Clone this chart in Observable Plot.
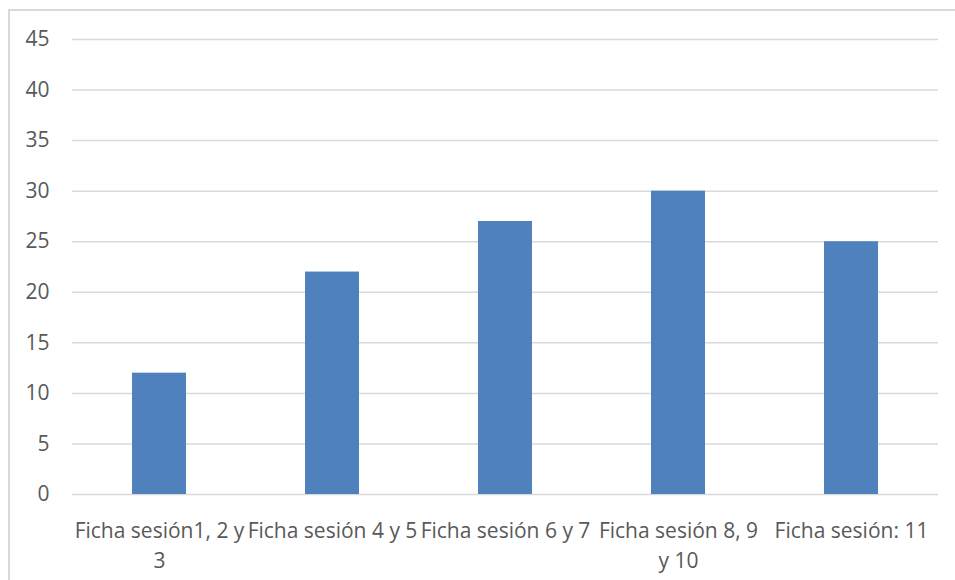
<!DOCTYPE html>
<html>
<head>
<meta charset="utf-8">
<script src="https://cdn.jsdelivr.net/npm/d3@7"></script>
<script src="https://cdn.jsdelivr.net/npm/@observablehq/plot@0.6"></script>
<style>
  html, body { margin: 0; padding: 0; background: #fff; overflow: hidden; }
  #wrap { position: relative; width: 955px; height: 580px; }
  #border {
    position: absolute; left: 8px; top: 9px; width: 1000px; height: 640px;
    border: 2px solid #d9d9d9; box-sizing: border-box;
  }
  #chart { position: absolute; left: 0; top: 0; }
</style>
</head>
<body>
<div id="wrap">
  <div id="border"></div>
  <div id="chart"></div>
</div>
<script>
// Sessions and the count recorded for each
const categories = [
  "Ficha sesión1, 2 y 3",
  "Ficha sesión 4 y 5",
  "Ficha sesión 6 y 7",
  "Ficha sesión 8, 9 y 10",
  "Ficha sesión: 11"
];
const values = [12, 22, 27, 30, 25];
// Axis labels as they wrap under each bar
const tickLabels = [
  "Ficha sesión1, 2 y\n3",
  "Ficha sesión 4 y 5",
  "Ficha sesión 6 y 7",
  "Ficha sesión 8, 9\ny 10",
  "Ficha sesión: 11"
];
const yTicks = [0, 5, 10, 15, 20, 25, 30, 35, 40, 45];

const data = categories.map((c, i) => ({category: c, value: values[i]}));
const labelOf = new Map(categories.map((c, i) => [c, tickLabels[i]]));

const pad = 0.688;

const chart = Plot.plot({
  width: 955,
  height: 580,
  marginTop: 39,
  marginBottom: 86,
  marginLeft: 72,
  marginRight: 17,
  style: {fontFamily: "'Open Sans', sans-serif", background: "transparent", color: "#595959"},
  x: {domain: categories, paddingInner: pad, paddingOuter: pad / 2, label: null},
  y: {domain: [0, 45], ticks: yTicks, label: null},
  marks: [
    Plot.gridY(yTicks, {stroke: "#d9d9d9", strokeOpacity: 1, strokeWidth: 1.5}),
    Plot.barY(data, {x: "category", y: "value", fill: "#4f81bd"}),
    Plot.axisY(yTicks, {
      tickSize: 0, tickPadding: 23, fontSize: 21, fill: "#595959"
    }),
    Plot.axisX({
      tickSize: 0, tickPadding: 23, fontSize: 21, fill: "#595959",
      tickFormat: d => labelOf.get(d), lineHeight: 1.4, lineWidth: Infinity
    })
  ]
});
document.getElementById("chart").append(chart);
</script>
</body>
</html>
